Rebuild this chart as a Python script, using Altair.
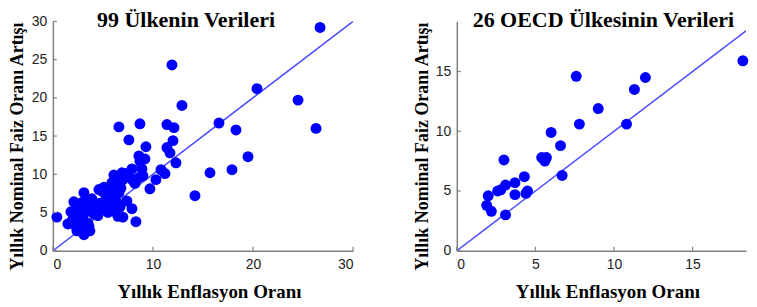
import altair as alt
import pandas as pd

# ---- data: 99 countries ----
all_x = [0.4, 26.7, 11.9, 20.4, 24.5, 26.3, 12.9, 16.6, 18.3, 19.5,
         17.9, 15.7, 14.2, 6.6, 8.7, 7.6, 11.4, 12.1, 12.0, 9.3,
         11.4, 11.7, 12.3, 9.2, 8.7, 8.9, 10.8, 11.2, 10.3, 9.7,
         8.6, 8.2, 7.9, 6.9, 6.1, 5.9, 6.7, 6.4, 5.5, 5.1,
         4.6, 5.9, 6.4, 7.4, 6.7, 7.9, 6.5, 7.0, 8.3, 3.1,
         2.1, 2.4, 1.8, 1.5, 2.1, 2.4, 3.1, 3.7, 3.5, 2.7,
         3.7, 4.4, 5.1, 4.1, 3.4, 4.4, 5.4, 3.1, 2.0, 2.6,
         2.9, 3.3, 3.9, 4.2, 4.7, 5.0, 5.6, 6.0, 5.3, 4.9,
         6.6, 6.2, 7.0, 7.2, 6.8, 3.0, 2.5, 3.6, 2.8, 4.5,
         3.9, 7.6, 8.0, 9.0, 1.9, 2.3, 6.1, 5.5, 8.6]
all_y = [4.4, 29.2, 24.3, 21.2, 19.7, 16.0, 19.0, 16.7, 15.8, 12.3,
         10.6, 10.2, 7.2, 16.2, 16.6, 14.5, 16.5, 16.1, 14.4, 13.6,
         13.5, 12.8, 11.5, 12.0, 11.7, 10.7, 10.6, 10.1, 9.3, 8.1,
         9.6, 8.8, 10.7, 10.2, 9.9, 8.9, 8.9, 8.0, 7.8, 8.3,
         8.0, 7.0, 6.3, 6.5, 5.7, 5.5, 4.5, 4.4, 3.8, 7.6,
         6.4, 6.1, 5.1, 3.5, 4.3, 2.6, 2.1, 2.6, 3.6, 3.6,
         6.1, 6.1, 6.0, 4.8, 5.4, 5.0, 5.7, 4.8, 4.8, 5.5,
         6.3, 6.6, 5.6, 5.9, 6.2, 5.4, 6.4, 7.5, 7.2, 7.8,
         7.6, 8.6, 9.3, 10.1, 8.2, 4.2, 4.6, 3.2, 2.8, 4.6,
         6.8, 9.8, 9.2, 9.8, 3.9, 3.2, 5.2, 5.0, 12.4]

# ---- data: 26 OECD countries ----
oecd_x = [18.2, 7.6, 12.0, 11.3, 9.0, 7.8, 10.8, 6.0, 6.6, 5.4,
          5.7, 5.6, 3.0, 6.7, 4.3, 3.7, 3.1, 2.6, 3.7, 4.4,
          2.0, 1.9, 2.2, 3.1, 2.8, 4.5]
oecd_y = [15.9, 14.6, 14.5, 13.5, 11.9, 10.6, 10.6, 9.9, 8.8, 7.8,
          7.8, 7.5, 7.6, 6.3, 6.2, 5.7, 5.5, 5.0, 4.7, 4.8,
          4.6, 3.8, 3.3, 3.0, 5.1, 5.0]

# y = x reference lines
line_all = [0, 30]
line_oecd = [0, 18.4]

xticks_all = [0, 10, 20, 30]
yticks_all = [0, 5, 10, 15, 20, 25, 30]
xticks_oecd = [0, 5, 10, 15]
yticks_oecd = [0, 5, 10, 15]

SERIF = "Liberation Serif"
SANS = "Liberation Sans"
AXIS_GRAY = "#808080"


def panel(px, py, lx, xdom, ydom, xticks, yticks, title, w, h,
          title_dx, title_offset, ytitle_pad):
    pts = pd.DataFrame({"x": px, "y": py})
    ln = pd.DataFrame({"x": lx, "y": lx})
    xs = alt.Scale(domain=xdom, nice=False, zero=False)
    ys = alt.Scale(domain=ydom, nice=False, zero=False)
    xaxis = alt.Axis(values=xticks, title="Yıllık Enflasyon Oranı",
                     grid=False, ticks=False, labelPadding=7,
                     titlePadding=11, titleX=w / 2 + 6, format="d",
                     domainColor=AXIS_GRAY, domainWidth=1.5,
                     labelFont=SANS, labelFontSize=14, labelColor="#222222",
                     titleFont=SERIF, titleFontSize=19, titleFontWeight="bold",
                     titleColor="black")
    yaxis = alt.Axis(values=yticks, title="Yıllık Nominal Faiz Oranı Artışı",
                     grid=False, ticks=False, labelPadding=6,
                     titlePadding=ytitle_pad, titleY=h / 2 + 10, format="d",
                     domainColor=AXIS_GRAY, domainWidth=1.5,
                     labelFont=SANS, labelFontSize=14, labelColor="#222222",
                     titleFont=SERIF, titleFontSize=18, titleFontWeight="bold",
                     titleColor="black")
    X = lambda: alt.X("x:Q", scale=xs, axis=xaxis)
    Y = lambda: alt.Y("y:Q", scale=ys, axis=yaxis)
    line = alt.Chart(ln).mark_line(color="#4b4bff", strokeWidth=1.5, clip=True).encode(
        x=X(), y=Y()
    )
    points = alt.Chart(pts).mark_circle(color="#0000ff", size=120, opacity=1).encode(
        x=X(), y=Y()
    )
    xt = alt.Chart(pd.DataFrame({"x": xticks})).mark_rule(color=AXIS_GRAY, strokeWidth=1.2).encode(
        x=X(), y=alt.value(h), y2=alt.value(h - 4)
    )
    yt = alt.Chart(pd.DataFrame({"y": yticks})).mark_rule(color=AXIS_GRAY, strokeWidth=1.2).encode(
        y=Y(), x=alt.value(0), x2=alt.value(4)
    )
    return alt.layer(line, points, xt, yt).properties(
        width=w, height=h,
        title=alt.TitleParams(title, font=SERIF, fontSize=22, fontWeight="bold",
                              color="black", anchor="middle", dx=title_dx,
                              offset=title_offset, baseline="alphabetic"),
    )


left = panel(all_x, all_y, line_all, [0, 30], [0, 30], xticks_all, yticks_all,
             "99 Ülkenin Verileri", 301, 230, -17, -35, 5)
right = panel(oecd_x, oecd_y, line_oecd, [0, 18.4], [0, 19.2], xticks_oecd, yticks_oecd,
              "26 OECD Ülkesinin Verileri", 290, 230, 2, -28, 4)

chart = alt.hconcat(left, right, spacing=59).properties(
    padding={"left": 0, "top": 1, "right": 0, "bottom": 0},
    background="white",
).configure_view(stroke=None)

chart.save("out.html", embed_options={"renderer": "svg", "actions": False})
